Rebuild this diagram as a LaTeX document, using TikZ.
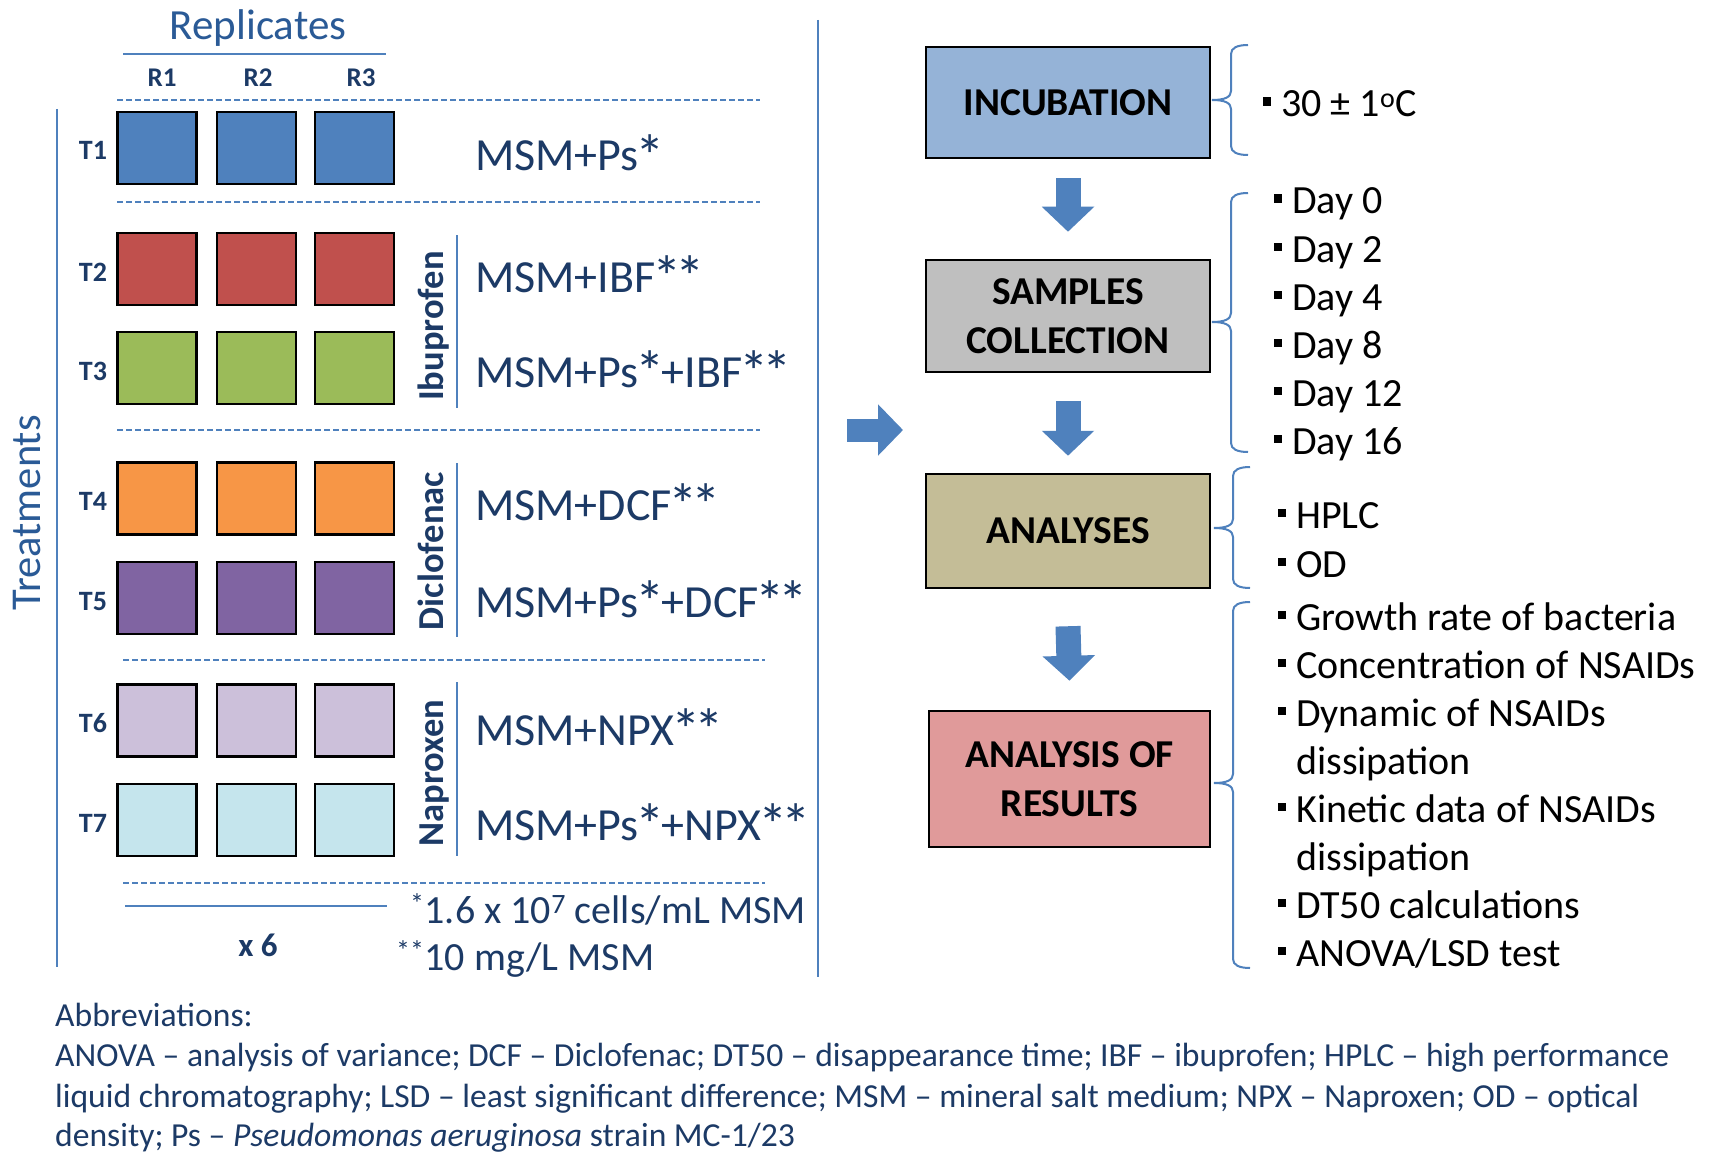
\documentclass[tikz,border=0pt]{standalone}
\usepackage{fontspec}
\usepackage{graphicx}
\setmainfont{Carlito}
\usetikzlibrary{arrows.meta}
\definecolor{navy}{HTML}{1C3A66}
\definecolor{tblue}{HTML}{2A5A96}
\definecolor{lblue}{HTML}{4F81BD}
\definecolor{cA}{HTML}{4F81BD}
\definecolor{cB}{HTML}{C0504D}
\definecolor{cC}{HTML}{9BBB59}
\definecolor{cD}{HTML}{F79646}
\definecolor{cE}{HTML}{8064A2}
\definecolor{cF}{HTML}{CCC0DA}
\definecolor{cG}{HTML}{C5E5ED}
\definecolor{incub}{HTML}{95B3D7}
\definecolor{sampc}{HTML}{BFBFBF}
\definecolor{analc}{HTML}{C4BD97}
\definecolor{resc}{HTML}{E09A9A}
\newcommand\fs[1]{\fontsize{#1}{#1}\selectfont}
\newcommand\bul{\llap{\rule[11pt]{8.5pt}{8.5pt}\hspace{10pt}}}
\newcommand\ask{\makebox[0.5em]{\raisebox{-0.13em}{\scalebox{1.28}{*}}}}
\newcommand\brc[4]{\draw[bracest] ({#1+17},#2) .. controls ({#1+6},#2) and (#1,{#2+3}) .. (#1,{#2+9}) -- (#1,{#3-9}) .. controls (#1,{#3-3}) and ({#1-6},#3) .. ({#1-19},#3) .. controls ({#1-6},#3) and (#1,{#3+3}) .. (#1,{#3+9}) -- (#1,{#4-9}) .. controls (#1,{#4-3}) and ({#1+6},#4) .. ({#1+17},#4);}
\begin{document}
\begin{tikzpicture}[x=1pt,y=-1pt,
  sq/.style={draw=black,line width=2.5pt,minimum width=79pt,minimum height=72pt,inner sep=0pt},
  tlab/.style={font=\bfseries\fs{28},text=navy,inner sep=0pt,anchor=base},
  rlab/.style={font=\bfseries\fs{27},text=navy,inner sep=0pt,anchor=base},
  msm/.style={font=\fs{46},text=navy,inner sep=0pt,anchor=base west},
  foot/.style={font=\fs{40},text=navy,inner sep=0pt,anchor=base west},
  drug/.style={font=\bfseries\fs{36.5},text=navy,inner sep=0pt,rotate=90,anchor=base},
  bline/.style={draw=lblue,line width=2pt},
  dline/.style={draw=lblue,line width=1.5pt,dash pattern=on 6pt off 3pt},
  box/.style={draw=black,line width=2.5pt,inner sep=0pt,align=center,font=\bfseries\fontsize{39.5}{49}\selectfont},
  item/.style={font=\fs{40},inner sep=0pt,anchor=base west},
  abbr/.style={font=\fs{33.6},text=navy,inner sep=0pt,anchor=base west},
  barrow/.style={draw=lblue,line width=25pt,-{Triangle[width=51pt,length=25pt]}},
  hbarrow/.style={draw=lblue,line width=23pt,-{Triangle[width=50pt,length=25pt]}},
  bracest/.style={draw=lblue,line width=2pt}
]
\fill[white] (0,0) rectangle (1713,1161);
\useasboundingbox (0,0) rectangle (1713,1161);

% headers
\node[font=\fs{43},text=tblue,inner sep=0pt,anchor=base] (repl) at (258,40) {Replicates};
\draw[bline] (123,54) -- (386,54);
\node[rlab] (r1) at (162,87) {R1};
\node[rlab] (r2) at (258,87) {R2};
\node[rlab] (r3) at (361,87) {R3};
\node[font=\fs{42.5},text=tblue,inner sep=0pt,rotate=90,anchor=base] (treat) at (40,513) {Treatments};
\draw[bline] (57,109) -- (57,967);

% dashed separators
\draw[dline] (117,100) -- (760,100);
\draw[dline] (117,202) -- (760,202);
\draw[dline] (117,430) -- (760,430);
\draw[dline] (123,660) -- (765,660);
\draw[dline] (123,883) -- (765,883);

% squares
\foreach \r/\c/\yy in {1/cA/148,2/cB/269,3/cC/368,4/cD/498.5,5/cE/598,6/cF/720.5,7/cG/820}{
  \foreach \k/\xx in {1/157,2/256.5,3/354.5}{
    \node[sq,fill=\c] (s\r\k) at (\xx,\yy) {};
  }
  \node[tlab] (t\r) at (93,{\yy+12}) {T\r};
}

% drug groups
\node[drug] (ibu) at (443,326) {Ibuprofen};
\node[drug] (dcf) at (443,551) {Diclofenac};
\node[drug] (npx) at (443,773) {Naproxen};
\draw[bline] (457,235) -- (457,408);
\draw[bline] (457,463) -- (457,637);
\draw[bline] (457,682) -- (457,856);

% treatment labels
\node[msm] (m1) at (475,171) {MSM+Ps\ask};
\node[msm] (m2) at (475,292) {MSM+IBF\ask\ask};
\node[msm] (m3) at (475,387) {MSM+Ps\ask+IBF\ask\ask};
\node[msm] (m4) at (475,520) {MSM+DCF\ask\ask};
\node[msm] (m5) at (475,617) {MSM+Ps\ask+DCF\ask\ask};
\node[msm] (m6) at (475,745) {MSM+NPX\ask\ask};
\node[msm] (m7) at (475,840) {MSM+Ps\ask+NPX\ask\ask};

% bottom left
\draw[bline] (125,906) -- (387,906);
\node[font=\bfseries\fs{33},text=navy,inner sep=0pt,anchor=base] (x6) at (258,956) {x 6};
\node[foot] (f1) at (410,923) {\textsuperscript{*}1.6 x 10\textsuperscript{7} cells/mL MSM};
\node[foot] (f2) at (396,970) {\textsuperscript{**}10 mg/L MSM};

% divider
\draw[bline] (818,20) -- (818,977);

% flow boxes
\node[box,fill=incub,minimum width=284pt,minimum height=111pt] (inc) at (1068,102.5) {INCUBATION};
\node[box,fill=sampc,minimum width=284pt,minimum height=112pt] (samp) at (1068,316) {SAMPLES\\COLLECTION};
\node[box,fill=analc,minimum width=284pt,minimum height=114pt] (anal) at (1068,531) {ANALYSES};
\node[box,fill=resc,minimum width=281pt,minimum height=136pt] (res) at (1069.5,779) {ANALYSIS OF\\RESULTS};

% block arrows
\draw[barrow] ([yshift=-19pt]inc.south) -- ([yshift=27pt]samp.north);
\draw[barrow] ([yshift=-28pt]samp.south) -- ([yshift=17pt]anal.north);
\draw[barrow] ([yshift=-37pt]anal.south) -- ([yshift=29pt]res.north);
\coordinate (ra1) at (847,430);
\coordinate (ra2) at (903,430);
\draw[hbarrow] (ra1) -- (ra2);

% braces
\brc{1231}{45}{100}{155}
\brc{1231}{193}{322}{452}
\brc{1233}{467}{528}{588}
\brc{1233}{602}{783}{968}

% lists
\node[item] (i1) at (1281,117) {\bul 30 ± 1\textsuperscript{o}C};
\node[item] (d0) at (1292,214) {\bul Day 0};
\node[item] (d2) at (1292,262) {\bul Day 2};
\node[item] (d4) at (1292,310) {\bul Day 4};
\node[item] (d8) at (1292,358) {\bul Day 8};
\node[item] (d12) at (1292,406) {\bul Day 12};
\node[item] (d16) at (1292,454) {\bul Day 16};
\node[item] (a1) at (1296,528) {\bul HPLC};
\node[item] (a2) at (1296,577) {\bul OD};
\node[item] (g1) at (1296,630) {\bul Growth rate of bacteria};
\node[item] (g2) at (1296,678) {\bul Concentration of NSAIDs};
\node[item] (g3) at (1296,726) {\bul Dynamic of NSAIDs};
\node[item] (g3b) at (1296,774) {dissipation};
\node[item] (g4) at (1296,822) {\bul Kinetic data of NSAIDs};
\node[item] (g4b) at (1296,870) {dissipation};
\node[item] (g5) at (1296,918) {\bul DT50 calculations};
\node[item] (g6) at (1296,966) {\bul ANOVA/LSD test};

% abbreviations
\node[abbr] (ab0) at (55,1026) {Abbreviations:};
\node[abbr] (ab1) at (55,1066) {ANOVA – analysis of variance; DCF – Diclofenac; DT50 – disappearance time; IBF – ibuprofen; HPLC – high performance};
\node[abbr] (ab2) at (55,1107) {liquid chromatography; LSD – least significant difference; MSM – mineral salt medium; NPX – Naproxen; OD – optical};
\node[abbr] (ab3) at (55,1146) {density; Ps – \textit{Pseudomonas aeruginosa} strain MC-1/23};
\end{tikzpicture}
\end{document}
